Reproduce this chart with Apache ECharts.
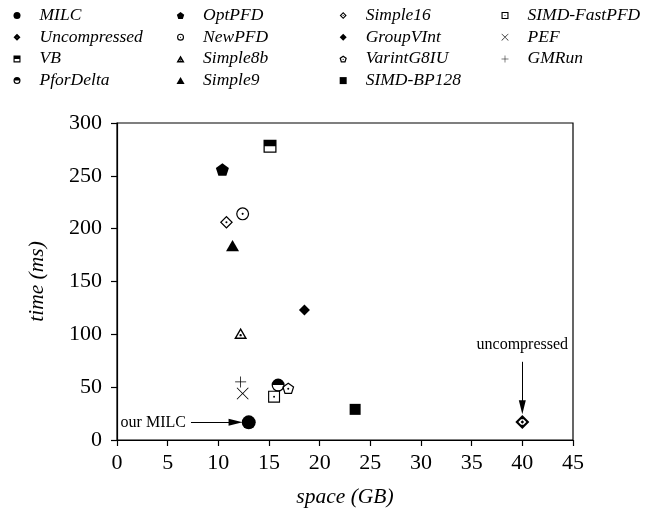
<!DOCTYPE html>
<html>
<head>
<meta charset="utf-8">
<script src="https://cdn.jsdelivr.net/npm/echarts@6/dist/echarts.min.js"></script>
<style>
  html, body { margin: 0; padding: 0; background: #fff; }
  #chart { width: 656px; height: 513px; }
</style>
</head>
<body>
<div id="chart"></div>
<script>
// methods and their (space, time) readings
const methods = ['MILC', 'Uncompressed', 'VB', 'PforDelta', 'OptPFD', 'NewPFD', 'Simple8b', 'Simple9',
  'Simple16', 'GroupVInt', 'VarintG8IU', 'SIMD-BP128', 'SIMD-FastPFD', 'PEF', 'GMRun'];
const spaceGB = [13.0, 40.0, 15.1, 15.9, 10.4, 12.4, 12.2, 11.4, 10.8, 18.5, 16.9, 23.5, 15.5, 12.4, 12.2];
const timeMs = [16.7, 17, 278, 52, 256, 214, 101, 184, 206, 123, 49, 29, 41, 44, 55];

// legend columns (column-major order in the figure)
const legendCols = [
  ['MILC', 'Uncompressed', 'VB', 'PforDelta'],
  ['OptPFD', 'NewPFD', 'Simple8b', 'Simple9'],
  ['Simple16', 'GroupVInt', 'VarintG8IU', 'SIMD-BP128'],
  ['SIMD-FastPFD', 'PEF', 'GMRun']
];

// annotations
const milcArrow = [[7.3, 16.7], [11.7, 16.7]];
const uncompArrow = [[40, 74], [40, 31]];
const noteLabels = [['our MILC', 7.0, 16.7, 'left'], ['uncompressed', 40, 90, 'inside']];

// ---- marker shapes (20x20 box) ----
function circ(r, cw) {
  const s = cw ? 1 : 0;
  return `M${10 - r},10 A${r},${r} 0 1,${s} ${10 + r},10 A${r},${r} 0 1,${s} ${10 - r},10 Z `;
}
function poly(pts) {
  return 'M' + pts.map(p => p[0].toFixed(2) + ',' + p[1].toFixed(2)).join(' L') + ' Z ';
}
function reg(n, r) {
  const pts = [];
  for (let i = 0; i < n; i++) {
    const a = (-90 + i * 360 / n) * Math.PI / 180;
    pts.push([10 + r * Math.cos(a), 10 + r * Math.sin(a)]);
  }
  return pts;
}
function ringPoly(n, t) {
  const inner = reg(n, 10 - t / Math.cos(Math.PI / n)).reverse();
  return poly(reg(n, 10)) + poly(inner);
}
const dot = circ(1.6, true);
function squareRing(t) {
  return poly([[0, 0], [20, 0], [20, 20], [0, 20]]) +
    poly([[t, t], [t, 20 - t], [20 - t, 20 - t], [20 - t, t]]);
}

function shapeFor(name, t) {
  let p;
  switch (name) {
    case 'MILC': p = circ(10, true); break;
    case 'Uncompressed':
      p = ringPoly(4, t * 1.6) + poly([[10, 0], [16, 6], [4, 6]]) + poly([[4, 14], [16, 14], [10, 20]]) +
        poly([[10, 7.5], [12.5, 10], [10, 12.5], [7.5, 10]]);
      break;
    case 'VB': p = squareRing(t) + poly([[0, 0], [20, 0], [20, 10], [0, 10]]); break;
    case 'PforDelta': p = circ(10, true) + circ(10 - t, false) + 'M0,10 A10,10 0 0,1 20,10 Z'; break;
    case 'OptPFD': p = poly(reg(5, 10)); break;
    case 'NewPFD': p = circ(10, true) + circ(10 - t, false) + dot; break;
    case 'Simple8b': p = ringPoly(3, t) + dot; break;
    case 'Simple9': p = poly(reg(3, 10)); break;
    case 'Simple16': p = ringPoly(4, t) + dot; break;
    case 'GroupVInt': p = poly(reg(4, 10)); break;
    case 'VarintG8IU': p = ringPoly(5, t) + dot; break;
    case 'SIMD-BP128': p = poly([[0, 0], [20, 0], [20, 20], [0, 20]]); break;
    case 'SIMD-FastPFD': p = squareRing(t) + dot; break;
    case 'PEF':
      p = 'M0,1 L1,0 L10,9 L19,0 L20,1 L11,10 L20,19 L19,20 L10,11 L1,20 L0,19 L9,10 Z'; break;
    case 'GMRun':
      p = 'M9.3,0 L10.7,0 L10.7,9.3 L20,9.3 L20,10.7 L10.7,10.7 L10.7,20 L9.3,20 L9.3,10.7 L0,10.7 L0,9.3 L9.3,9.3 Z'; break;
  }
  return 'path://' + p;
}
const sizes = {
  'MILC': 14, 'Uncompressed': 14, 'VB': 13, 'PforDelta': 13, 'OptPFD': [13, 12.4], 'NewPFD': 13,
  'Simple8b': [13, 11.3], 'Simple9': [13, 11.3], 'Simple16': 13, 'GroupVInt': 11, 'VarintG8IU': [12, 11.5],
  'SIMD-BP128': 11, 'SIMD-FastPFD': 12, 'PEF': 12, 'GMRun': 11
};

const serif = '"Liberation Serif", "Times New Roman", serif';

const series = methods.map((m, i) => ({
  name: m,
  type: 'scatter',
  data: [[spaceGB[i], timeMs[i]]],
  symbol: shapeFor(m, 1.9),
  symbolSize: sizes[m],
  itemStyle: { color: '#000', opacity: 1 },
  emphasis: { disabled: true },
  z: 3
}));

// arrows and notes
const arrowHead = 'path://M5,0 L10,20 L0,20 Z';
series.push({
  name: 'notes',
  type: 'scatter',
  data: noteLabels.map(n => ({ value: [n[1], n[2]], label: { position: n[3] } })),
  symbolSize: 0,
  silent: true,
  itemStyle: { color: '#000', opacity: 1 },
  label: {
    show: true, distance: 2, color: '#000', fontFamily: serif, fontSize: 16,
    formatter: p => noteLabels[p.dataIndex][0]
  },
  markLine: {
    silent: true,
    symbol: ['none', arrowHead],
    symbolSize: [7, 14],
    label: { show: false },
    lineStyle: { color: '#000', width: 1, type: 'solid' },
    emphasis: { disabled: true },
    data: [
      [{ coord: milcArrow[0] }, { coord: milcArrow[1] }],
      [{ coord: uncompArrow[0] }, { coord: uncompArrow[1] }]
    ]
  }
});

const legendLeft = [13.5, 176.5, 339.5, 501.5];
const legends = legendCols.map((col, k) => ({
  orient: 'vertical',
  left: legendLeft[k],
  top: 6.5,
  padding: 0,
  itemWidth: 35,
  itemHeight: 7,
  itemGap: 3.7,
  selectedMode: false,
  textStyle: { fontFamily: serif, fontStyle: 'italic', fontSize: 17.5, lineHeight: 18, color: '#000' },
  data: col.map(n => ({ name: n, icon: shapeFor(n, 3.2) }))
}));

const axisCommon = {
  axisLine: { show: true, lineStyle: { color: '#000', width: 1.2 } },
  axisTick: { show: true, inside: false, length: 6, lineStyle: { color: '#000', width: 1.2 } },
  splitLine: { show: false },
  axisLabel: { color: '#000', fontFamily: serif, fontSize: 22 },
  nameLocation: 'middle',
  nameTextStyle: { color: '#000', fontFamily: serif, fontStyle: 'italic', fontSize: 21.5 }
};

const chart = echarts.init(document.getElementById('chart'), null, { renderer: 'canvas' });
chart.setOption({
  animation: false,
  backgroundColor: '#fff',
  legend: legends,
  grid: { left: 117, right: 83, top: 123, bottom: 72, show: true, borderColor: '#000', borderWidth: 1.2 },
  xAxis: Object.assign({}, axisCommon, {
    type: 'value', min: 0, max: 45, interval: 5, name: 'space (GB)', nameGap: 46,
    axisLabel: Object.assign({}, axisCommon.axisLabel, { margin: 12 })
  }),
  yAxis: Object.assign({}, axisCommon, {
    type: 'value', min: 0, max: 300, interval: 50, name: 'time (ms)', nameGap: 69,
    axisLabel: Object.assign({}, axisCommon.axisLabel, { margin: 15 })
  }),
  series: series
});
</script>
</body>
</html>
